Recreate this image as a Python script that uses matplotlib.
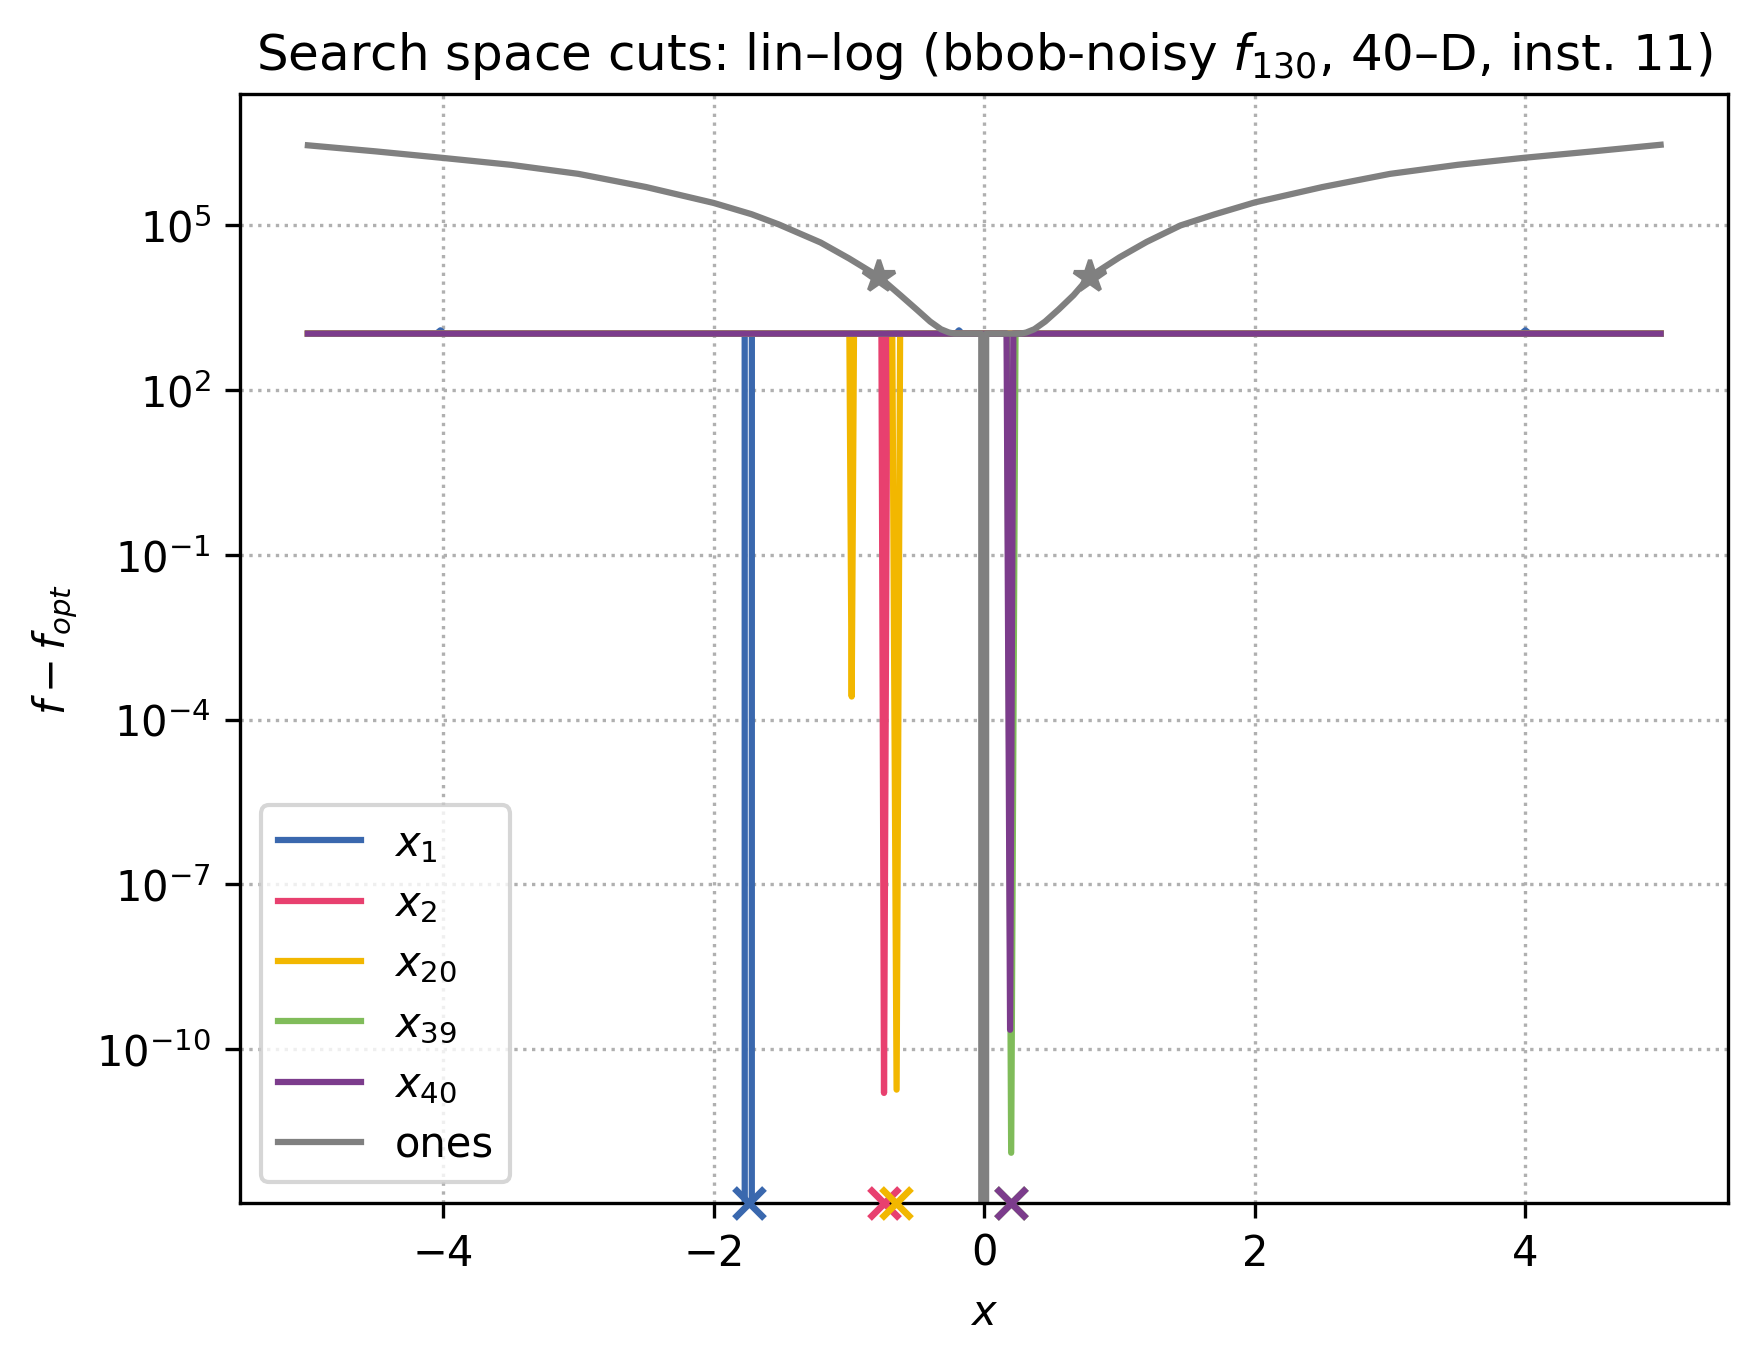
import numpy as np
import matplotlib
matplotlib.use("Agg")
import matplotlib.pyplot as plt

# values (f - f_opt along axis cuts)
plateau = 10**3.03

x_cut1 = [-5.0, -4.05, -4.02, -3.99, -1.771, -1.745, -1.718, -0.21, -0.187, -0.164, 3.97, 4.0, 4.03, 5.0]
f_cut1 = [plateau, plateau, 10**3.09, plateau, plateau, 0.0, plateau, plateau, 10**3.09, plateau,
          plateau, 10**3.09, plateau, plateau]

x_cut2 = [-5.0, -0.760, -0.741, -0.716, 5.0]
f_cut2 = [plateau, plateau, 10**-10.80, plateau, plateau]

x_cut20 = [-5.0, -0.997, -0.980, -0.963, -0.680, -0.648, -0.622, 5.0]
f_cut20 = [plateau, plateau, 10**-3.58, plateau, plateau, 10**-10.74, plateau, plateau]

x_cut39 = [-5.0, 0.168, 0.199, 0.231, 5.0]
f_cut39 = [plateau, plateau, 10**-11.89, plateau, plateau]

x_cut40 = [-5.0, 0.165, 0.191, 0.215, 5.0]
f_cut40 = [plateau, plateau, 10**-9.65, plateau, plateau]

x_ones = [-5.0, -4.5, -4.0, -3.5, -3.0, -2.5, -2.0, -1.72, -1.52, -1.21, -1.0, -0.78,
          -0.62, -0.50, -0.40, -0.32, -0.26, -0.22, -0.022, -0.004, 0.014,
          0.27, 0.31, 0.37, 0.45, 0.55, 0.66, 0.78, 1.0, 1.2, 1.45, 1.7, 2.0,
          2.5, 3.0, 3.5, 4.0, 4.5, 5.0]
logf_ones = [6.46, 6.35, 6.23, 6.105, 5.94, 5.70, 5.41, 5.205, 5.02, 4.69, 4.40, 4.07,
             3.73, 3.47, 3.25, 3.11, 3.05, 3.03, 3.03, None, 3.03,
             3.03, 3.05, 3.11, 3.25, 3.47, 3.73, 4.07, 4.42, 4.70, 5.00, 5.20, 5.42,
             5.70, 5.94, 6.105, 6.235, 6.35, 6.47]
f_ones = [0.0 if v is None else 10**v for v in logf_ones]

star_x = [-0.78, 0.78]

# optimum coordinates along each cut
xopt = [-1.742, -0.739, -0.649, 0.197, 0.197]

labels = ["$x_1$", "$x_2$", "$x_{20}$", "$x_{39}$", "$x_{40}$", "ones"]
colors = ["#3a68ae", "#e8406f", "#f2b700", "#80bc5a", "#7c3c8c", "#808080"]

cuts_x = [x_cut1, x_cut2, x_cut20, x_cut39, x_cut40, x_ones]
cuts_f = [f_cut1, f_cut2, f_cut20, f_cut39, f_cut40, f_ones]

fig, ax = plt.subplots(figsize=(6.4, 4.8))

for xs, fs, lab, col in zip(cuts_x, cuts_f, labels, colors):
    ax.plot(xs, fs, color=col, lw=1.5, label=lab)

# stars on the 'ones' cut
ones_pos = np.array(f_ones) > 0
star_y = 10**np.interp(star_x, np.array(x_ones)[ones_pos], np.log10(np.array(f_ones)[ones_pos]))
ax.plot(star_x, star_y, ls="none", marker="*", ms=8, color=colors[-1])

ax.set_yscale("log")
ax.autoscale_view()
ylo, yhi = ax.get_ylim()

# mark optimum at the bottom of the axes
for xo, col in zip(xopt, colors[:5]):
    ax.plot([xo], [ylo], ls="none", marker="x", ms=7, mew=1.6, color=col, clip_on=False, zorder=5)
ax.set_ylim(ylo, yhi)

ax.grid(True, linestyle=":", color="#b0b0b0")
ax.set_xlabel("$x$")
ax.set_ylabel("$f - f_{opt}$")
ax.set_title("Search space cuts: lin\u2013log (bbob-noisy $f_{130}$, 40\u2013D, inst. 11)")
ax.legend(loc="lower left", labelspacing=0.44)

plt.savefig("out.png", dpi=300, bbox_inches="tight")
